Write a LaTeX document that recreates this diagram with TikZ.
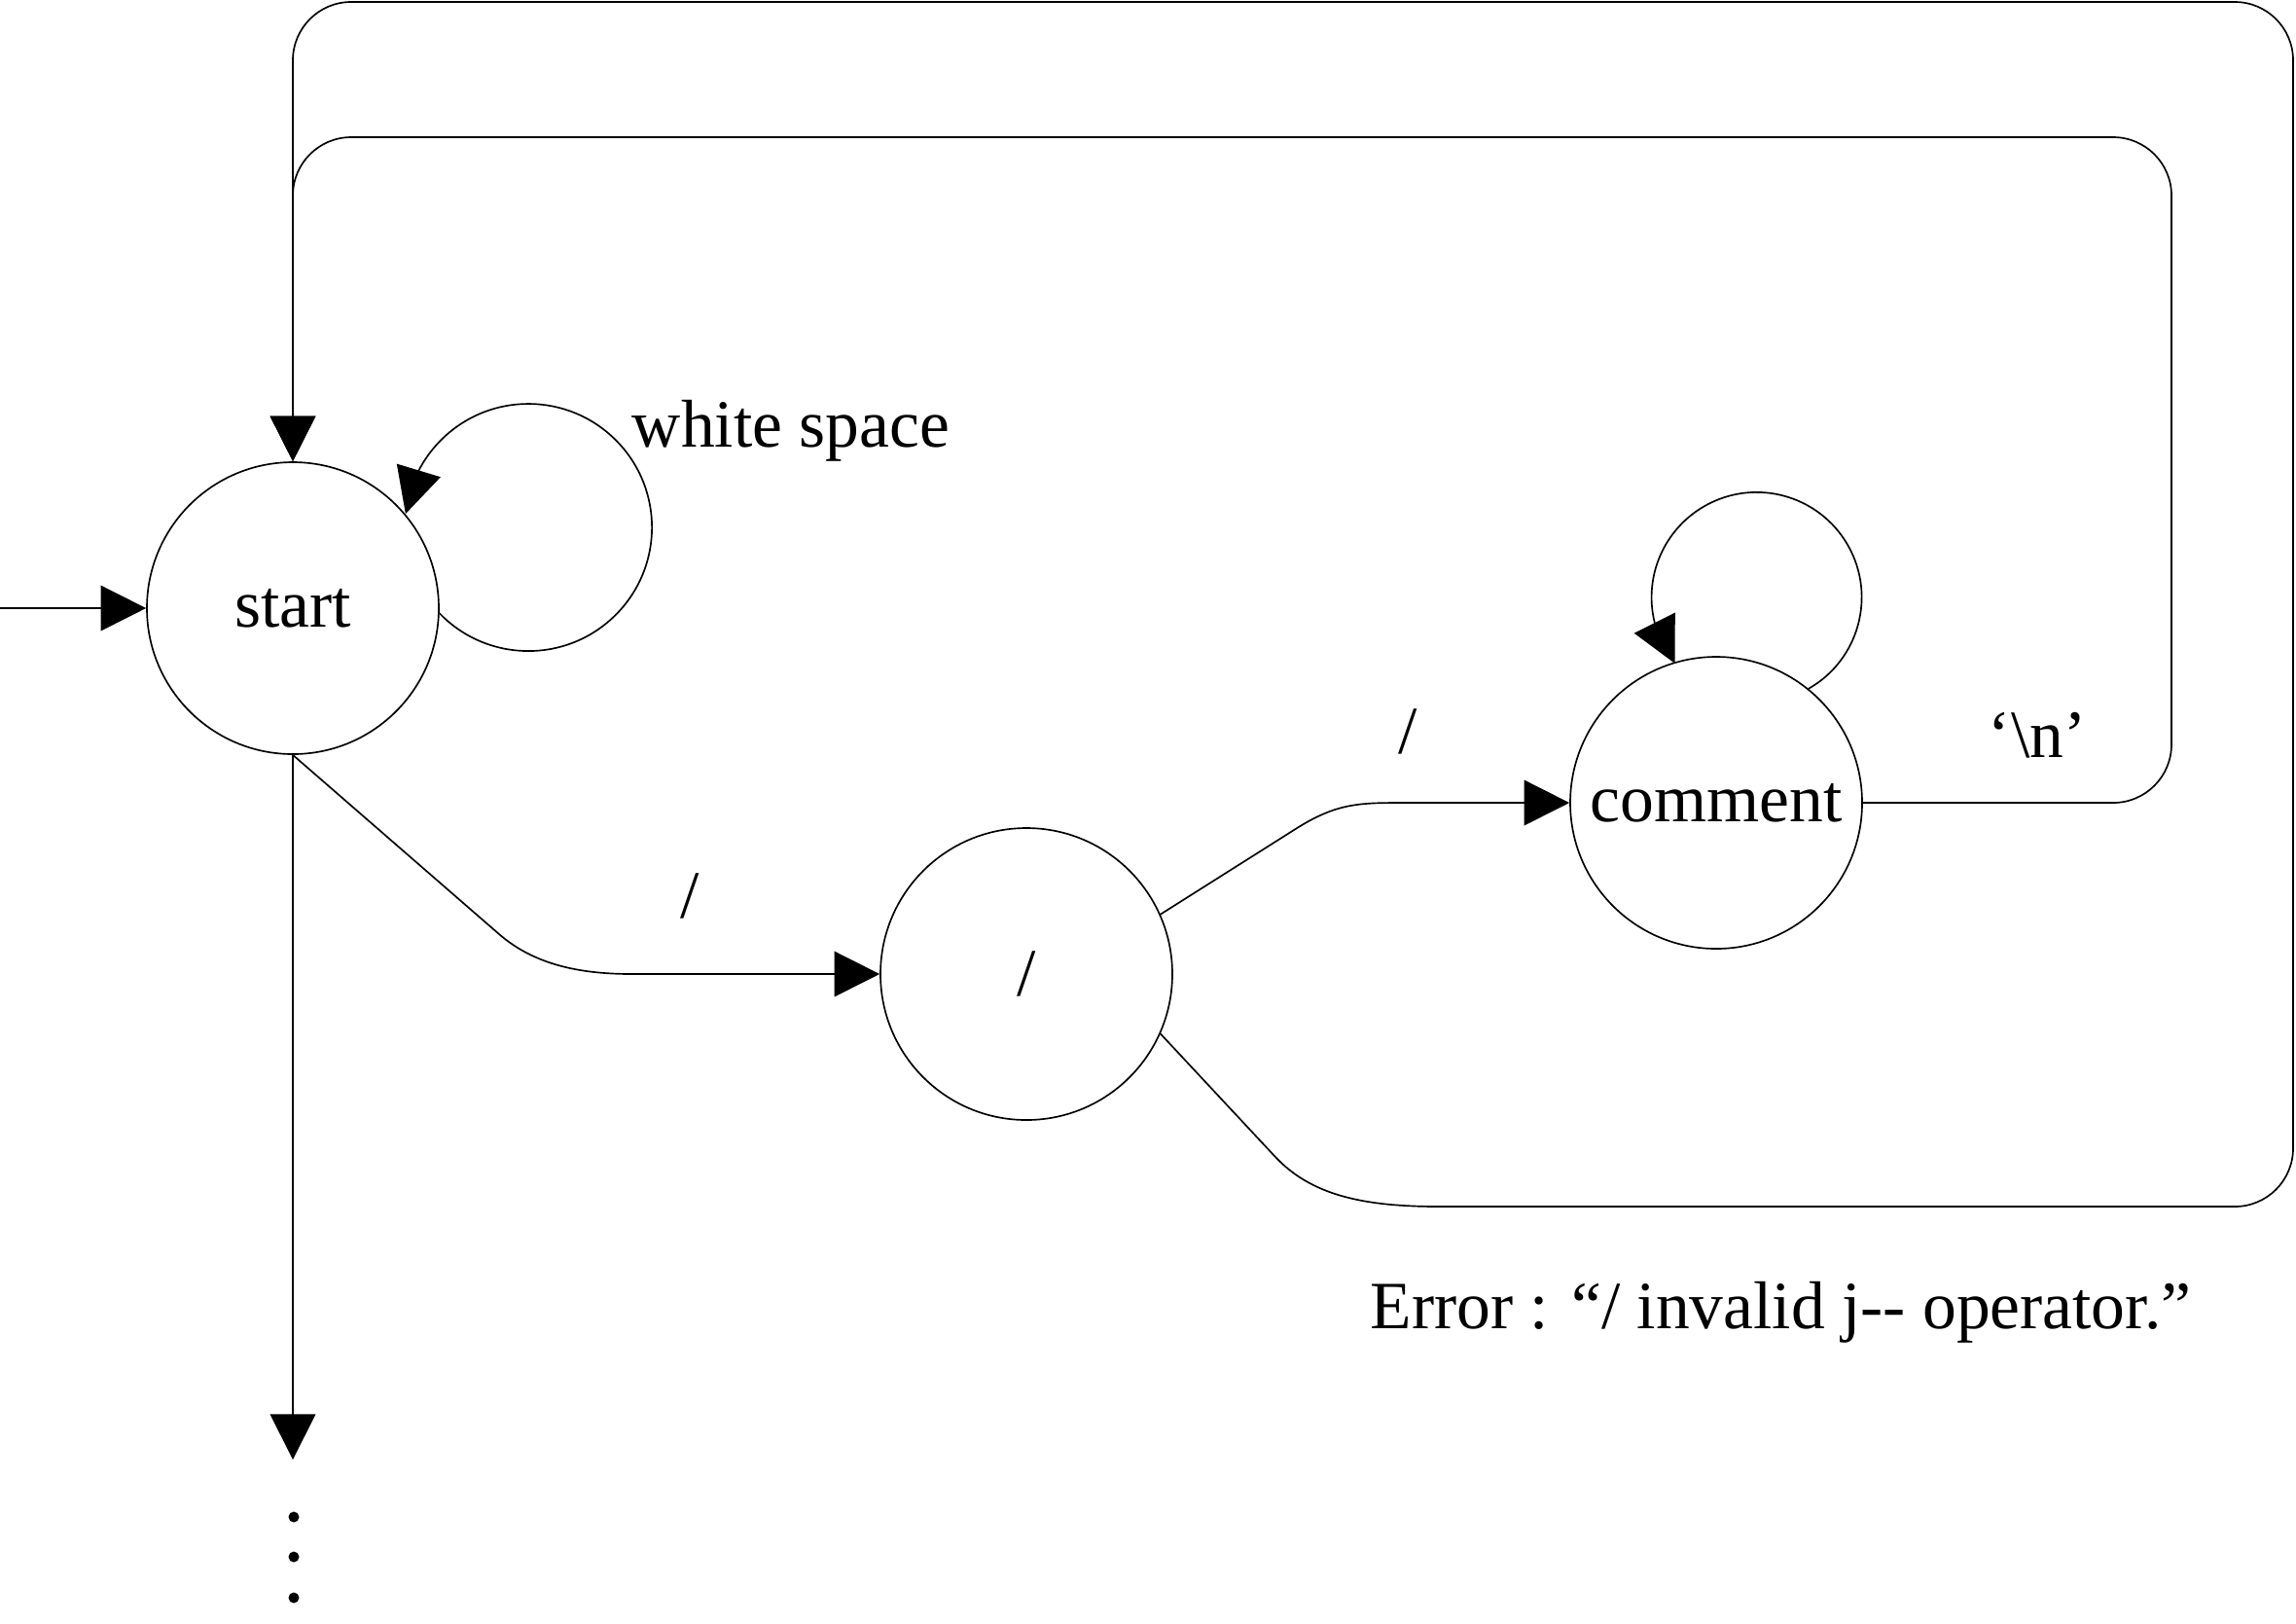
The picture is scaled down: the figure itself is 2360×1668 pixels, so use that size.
\documentclass[tikz,border=0pt]{standalone}
\usepackage{fontspec}
\setmainfont{Liberation Serif}
\usetikzlibrary{arrows.meta,bending}
\begin{document}
\begin{tikzpicture}[x=0.3pt,y=-0.3pt,line width=0.5pt,
  state/.style={circle,draw,minimum size=90pt,inner sep=0pt},
  arr/.style={-{Triangle[length=14pt,width=14pt]}},
  lbl/.style={inner sep=0pt},
  font=\fontsize{20.85}{25}\selectfont]
\useasboundingbox (0,0) rectangle (2360,1668);
% states
\node[state] (start) at (301,625) {start};
\node[state] (slash) at (1055,1001) {/};
\node[state] (comment) at (1764,825) {comment};
% free ends
\coordinate (in) at (0,625);
\coordinate (down) at (301,1500);
% connectors
\draw[arr] (in) -- (start);
\draw[arr] (start.south) -- (down);
\draw[arr] (start.-2.3) arc[start angle=136, end angle=-173.7, radius=127];
\draw[arr] (comment.51.5) arc[start angle=60.4, end angle=-219, radius=108];
\draw[arr] (start.south) -- (513,960) .. controls (551,993) and (600,1001) .. (650,1001) -- (slash.west);
\draw[arr] (slash.24) -- (1330,853) .. controls (1372,826) and (1395,825) .. (1440,825) -- (comment.west);
\draw[arr] (slash.-24) -- (1310,1188) .. controls (1347,1228) and (1400,1240) .. (1480,1240)
  [rounded corners=18pt] -- (2357,1240) -- (2357,2) -- (301,2) -- (start.north);
\draw[arr,rounded corners=18pt] (comment.east) -- (2232,825) -- (2232,141) -- (301,141) -- (start.north);
% labels
\node[lbl,anchor=base west] (ws) at (649,459) {white space};
\node[lbl,anchor=base] (nl) at (2094,778) {‘\textbackslash n’};
\node[lbl,anchor=base] (l1) at (709,943) {/};
\node[lbl,anchor=base] (l2) at (1447,774) {/};
\node[lbl,anchor=base west] (err) at (1408,1365) {Error : “/ invalid j\mbox{-}\mbox{-} operator.”};
% continuation dots
\fill (302,1559) circle[radius=5.5];
\fill (302,1600) circle[radius=5.5];
\fill (302,1642) circle[radius=5.5];
\end{tikzpicture}
\end{document}
